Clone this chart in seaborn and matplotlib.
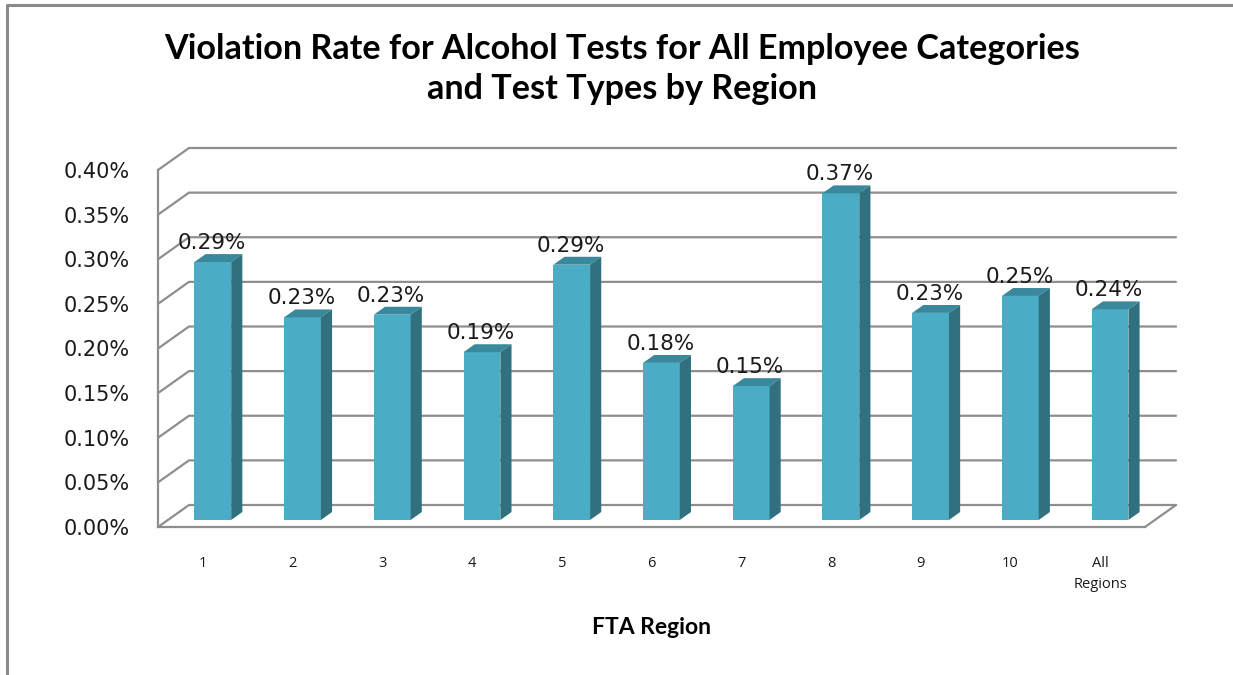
import numpy as np
import pandas as pd
import seaborn as sns
import matplotlib
matplotlib.use("Agg")
import matplotlib.pyplot as plt
from matplotlib.patches import Polygon
from matplotlib.lines import Line2D

# ---- data ---------------------------------------------------------------
regions = ["1", "2", "3", "4", "5", "6", "7", "8", "9", "10", "All\nRegions"]
rates = [0.289, 0.227, 0.230, 0.188, 0.286, 0.176, 0.150, 0.366, 0.232, 0.251, 0.236]
y_ticks = [0.00, 0.05, 0.10, 0.15, 0.20, 0.25, 0.30, 0.35, 0.40]
y_tick_labels = [f"{t:.2f}%" for t in y_ticks]

title = "Violation Rate for Alcohol Tests for All Employee Categories\nand Test Types by Region"
x_label = "FTA Region"

# ---- style --------------------------------------------------------------
sns.set_theme(style="white")
plt.rcParams["font.family"] = ["DejaVu Sans"]

FRONT = "#4BACC6"
SIDE = "#31707F"
TOP = "#3A889C"
GRID = "#8E8E8E"
TEXT = "#1A1A1A"

W, H, DPI = 1233, 675, 100
fig = plt.figure(figsize=(W / DPI, H / DPI), dpi=DPI)
fig.patch.set_facecolor("white")

# plot box (front plane) in pixels
left_px, right_px, bottom_px, top_px = 158, 1145, 527, 170
ax = fig.add_axes([left_px / W, 1 - bottom_px / H,
                   (right_px - left_px) / W, (bottom_px - top_px) / H])

df = pd.DataFrame({"region": regions, "rate": rates})
bar_w = 0.41
sns.barplot(data=df, x="region", y="rate", color=FRONT, saturation=1,
            width=bar_w, ax=ax, linewidth=0, errorbar=None)

xmin, xmax = -0.5, len(regions) - 0.5
ymin, ymax = 0.0, 0.40
ax.set_xlim(xmin, xmax)
ax.set_ylim(ymin, ymax)

# data units per pixel
ux = (xmax - xmin) / (right_px - left_px)
uy = (ymax - ymin) / (bottom_px - top_px)

# oblique depth of the chart box and of the bars (pixels -> data)
depth = np.array([31 * ux, 22 * uy])
t_front, t_back = 0.32, 0.68
off_f = depth * t_front
off_b = depth * t_back

# ---- walls and floor ----------------------------------------------------
for yv in y_ticks:
    xs = [xmin, xmin + depth[0], xmax + depth[0]]
    ys = [yv, yv + depth[1], yv + depth[1]]
    ax.add_line(Line2D(xs, ys, color=GRID, lw=1.6, clip_on=False, zorder=1))
ax.add_line(Line2D([xmax, xmax + depth[0]], [0, depth[1]],
                   color=GRID, lw=1.6, clip_on=False, zorder=1))

# ---- bars with oblique top and side faces -------------------------------
for patch, v in zip(ax.patches, rates):
    x0 = patch.get_x()
    x1 = x0 + patch.get_width()
    patch.set_x(x0 + off_f[0])
    patch.set_y(off_f[1])
    patch.set_zorder(3)
    patch.set_clip_on(False)
    fx0, fx1 = x0 + off_f[0], x1 + off_f[0]
    bx0, bx1 = x0 + off_b[0], x1 + off_b[0]
    ftop, btop = v + off_f[1], v + off_b[1]
    fbot, bbot = off_f[1], off_b[1]
    ax.add_patch(Polygon([(fx0, ftop), (fx1, ftop), (bx1, btop), (bx0, btop)],
                         closed=True, facecolor=TOP, edgecolor="none",
                         zorder=3, clip_on=False))
    ax.add_patch(Polygon([(fx1, fbot), (fx1, ftop), (bx1, btop), (bx1, bbot)],
                         closed=True, facecolor=SIDE, edgecolor="none",
                         zorder=3, clip_on=False))
    ax.text((fx0 + fx1) / 2 - 1 * ux, btop + 5 * uy, f"{v:.2f}%",
            ha="center", va="baseline", fontsize=15.5, color=TEXT,
            zorder=4, clip_on=False)

# ---- axes, ticks, labels ------------------------------------------------
for side in ("top", "right"):
    ax.spines[side].set_visible(False)
for side in ("left", "bottom"):
    ax.spines[side].set_color(GRID)
    ax.spines[side].set_linewidth(1.6)
    ax.spines[side].set_zorder(2)

ax.set_yticks(y_ticks)
ax.set_yticklabels(y_tick_labels)
ax.tick_params(axis="y", which="major", direction="out", length=5,
               width=1.6, color=GRID, pad=15, labelsize=15, labelcolor=TEXT)

ax.set_xticks(np.arange(len(regions)))
ax.set_xticklabels(regions, fontfamily="Open Sans", fontsize=10.5,
                   color=TEXT, linespacing=1.5)
ax.set_xticks(np.arange(xmin, xmax + 0.01, 1.0), minor=True)
ax.tick_params(axis="x", which="major", length=0, pad=21)
ax.tick_params(axis="x", which="minor", direction="out", length=5,
               width=1.6, color=GRID)
for lbl in ax.get_xticklabels():
    lbl.set_verticalalignment("top")

ax.set_xlabel("")
ax.set_ylabel("")
ax.grid(False)
ax.set_facecolor("none")

fig.text(622 / W, 1 - 69 / H, title, ha="center", va="center",
         fontfamily="Lato", fontweight="bold", fontsize=24.6,
         color="black", linespacing=1.32)
fig.text(652 / W, 1 - 627 / H, x_label, ha="center", va="center",
         fontfamily="Lato", fontweight="bold", fontsize=16.5, color="black")

# chart frame
fig.add_artist(Line2D([7 / W, 7 / W, 1.0], [0.0, 1 - 5 / H, 1 - 5 / H],
                      transform=fig.transFigure, color="#8A8A8A", lw=2.2))

fig.savefig("out.png", dpi=DPI, facecolor="white")
